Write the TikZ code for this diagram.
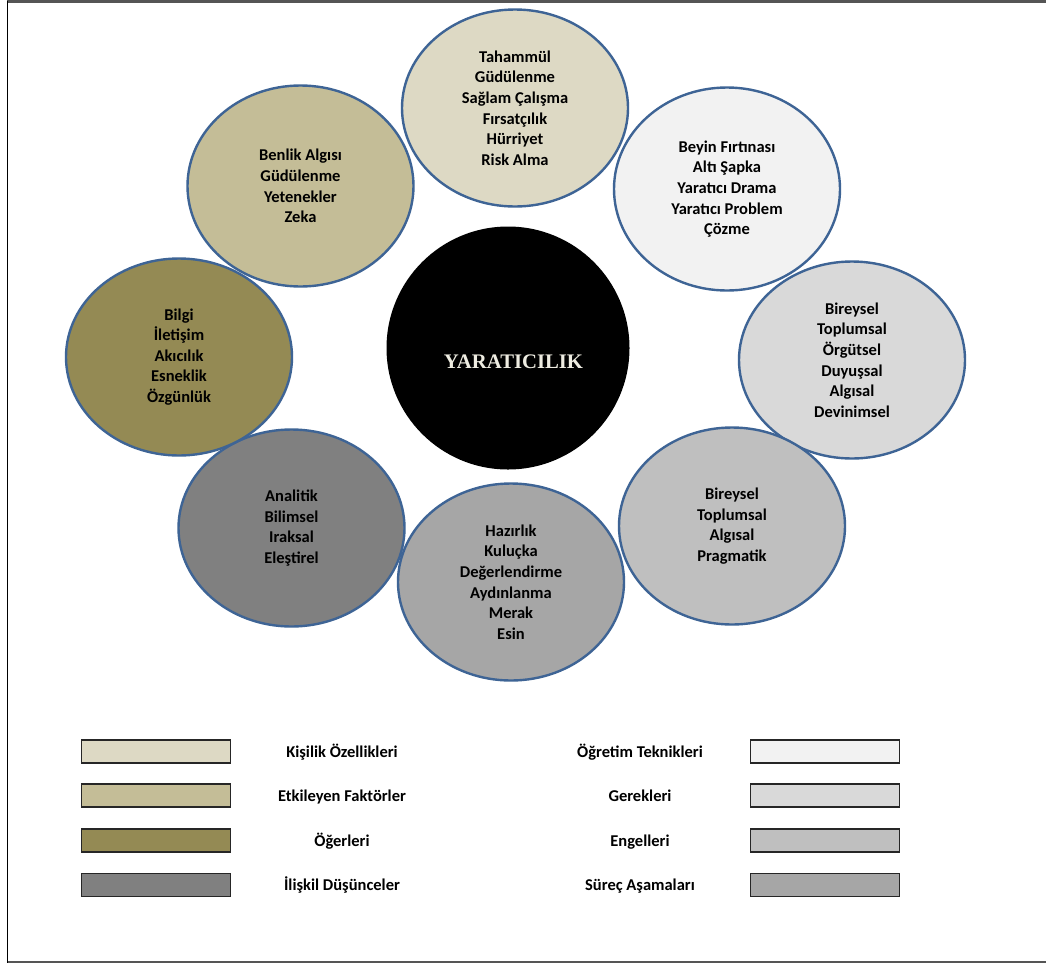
\documentclass[tikz,border=0pt]{standalone}
\usepackage{fontspec}
\setmainfont{Carlito}
\newfontfamily\timesf{Liberation Serif}
\usetikzlibrary{shapes.geometric}
\definecolor{cKis}{HTML}{DDD9C4}
\definecolor{cEtk}{HTML}{C4BD97}
\definecolor{cOge}{HTML}{948A54}
\definecolor{cIli}{HTML}{808080}
\definecolor{cOgr}{HTML}{F2F2F2}
\definecolor{cGer}{HTML}{D9D9D9}
\definecolor{cEng}{HTML}{BFBFBF}
\definecolor{cSur}{HTML}{A6A6A6}
\definecolor{edge}{HTML}{3E6495}
\definecolor{cream}{HTML}{EEECE1}
\definecolor{frameg}{HTML}{555555}
\begin{document}
\begin{tikzpicture}[x=1pt,y=-1pt,
  bubble/.style={ellipse, draw=edge, line width=2.4pt, minimum width=226pt, minimum height=197pt,
    inner sep=0pt, align=center, font=\fontsize{16.5}{20.6}\selectfont\bfseries, text=black},
  key/.style={draw=black!85, line width=1.3pt, minimum width=149pt, minimum height=23pt, inner sep=0pt},
  keylabel/.style={font=\fontsize{16.5}{20}\selectfont\bfseries, text=black, inner sep=0pt, anchor=base}]
\useasboundingbox (0,0) rectangle (1046,967);
\fill[white] (0,0) rectangle (1046,967);
% frame
\draw[frameg, line width=2.5pt] (7,1.5) -- (1046,1.5);
\draw[frameg, line width=2.5pt] (7,962) -- (1046,962);
\draw[black, line width=1.5pt] (7.5,0.5) -- (7.5,963);
% bubbles
\node[bubble, fill=cKis] (kis) at (515,108) {Tahammül\\Güdülenme\\Sağlam Çalışma\\Fırsatçılık\\Hürriyet\\Risk Alma};
\node[bubble, fill=cOgr, minimum height=203pt] (ogr) at (727,189) {Beyin Fırtınası\\Altı Şapka\\Yaratıcı Drama\\Yaratıcı Problem\\Çözme};
\node[bubble, fill=cGer] (ger) at (852,360) {Bireysel\\Toplumsal\\Örgütsel\\Duyuşsal\\Algısal\\Devinimsel};
\node[bubble, fill=cEng] (eng) at (732,526) {Bireysel\\Toplumsal\\Algısal\\Pragmatik};
\node[bubble, fill=cSur] (sur) at (511,582) {Hazırlık\\Kuluçka\\Değerlendirme\\Aydınlanma\\Merak\\Esin};
\node[bubble, fill=cIli] (ili) at (291.5,528) {Analitik\\Bilimsel\\Iraksal\\Eleştirel};
\node[bubble, fill=cOge] (oge) at (179,357) {Bilgi\\İletişim\\Akıcılık\\Esneklik\\Özgünlük};
\node[bubble, fill=cEtk, minimum height=201pt] (etk) at (300.5,186) {Benlik Algısı\\Güdülenme\\Yetenekler\\Zeka};
% core
\node[circle, fill=black, minimum size=243pt, inner sep=0pt] (core) at (508,348) {};
\node[font=\timesf\fontsize{20.7}{22}\selectfont\bfseries, text=cream, inner sep=0pt] (coretext) at (513.5,362) {YARATICILIK};
% legend left
\node[key, fill=cKis] (k1) at (156,751.5) {};
\node[key, fill=cEtk] (k2) at (156,795.5) {};
\node[key, fill=cOge] (k3) at (156,840.5) {};
\node[key, fill=cIli] (k4) at (156,885) {};
\node[keylabel] (l1) at (342,757) {Kişilik Özellikleri};
\node[keylabel] (l2) at (342,801) {Etkileyen Faktörler};
\node[keylabel] (l3) at (342,846) {Öğerleri};
\node[keylabel] (l4) at (342,890.5) {İlişkil Düşünceler};
% legend right
\node[key, fill=cOgr] (k5) at (825,751.5) {};
\node[key, fill=cGer] (k6) at (825,795.5) {};
\node[key, fill=cEng] (k7) at (825,840.5) {};
\node[key, fill=cSur] (k8) at (825,885) {};
\node[keylabel] (l5) at (640,757) {Öğretim Teknikleri};
\node[keylabel] (l6) at (640,801) {Gerekleri};
\node[keylabel] (l7) at (640,846) {Engelleri};
\node[keylabel] (l8) at (640,890.5) {Süreç Aşamaları};
\end{tikzpicture}
\end{document}
